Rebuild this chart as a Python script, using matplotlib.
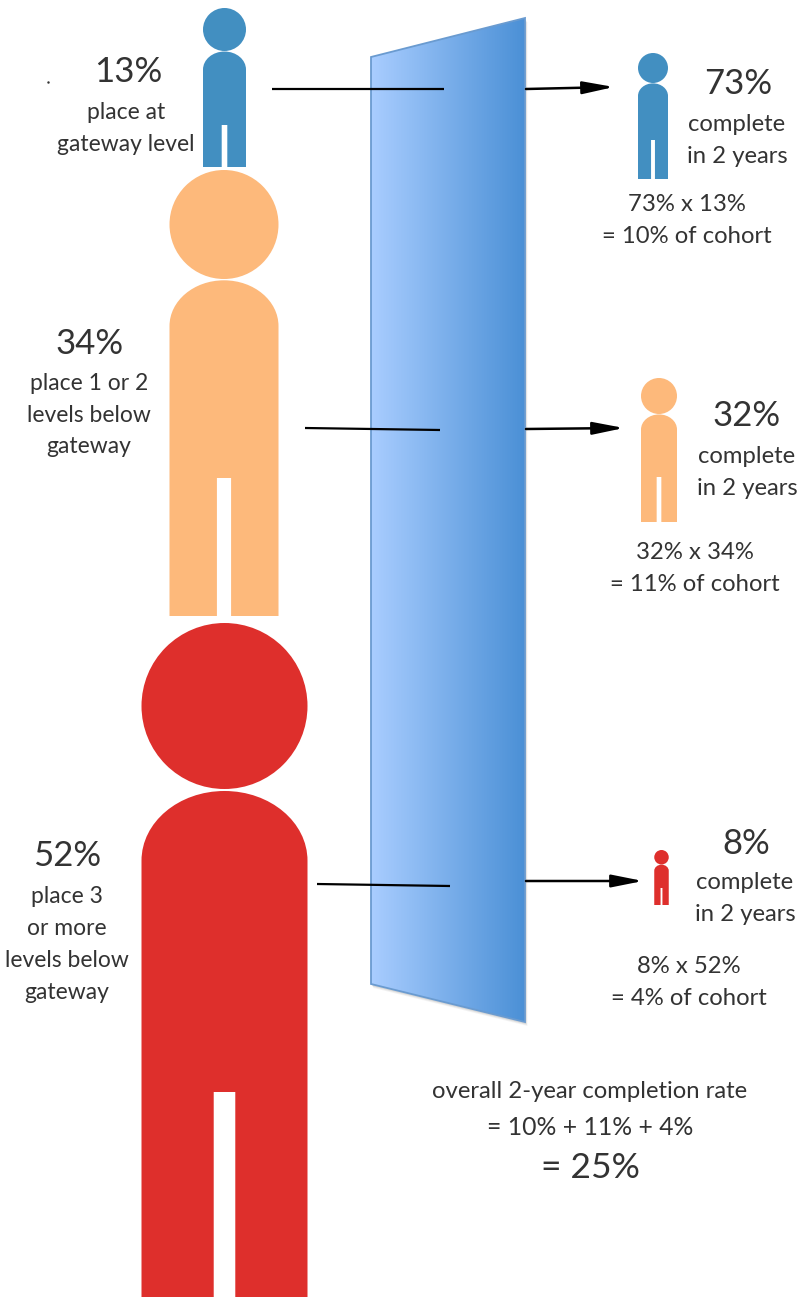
import numpy as np
import matplotlib
matplotlib.use("Agg")
import matplotlib.pyplot as plt
from matplotlib.patches import Circle, PathPatch, Polygon
from matplotlib.path import Path

# values
placement_pct = [13, 34, 52]
completion_pct = [73, 32, 8]
cohort_pct = [10, 11, 4]
overall_pct = 25
placement_labels = [
    ["place at", "gateway level"],
    ["place 1 or 2", "levels below", "gateway"],
    ["place 3", "or more", "levels below", "gateway"],
]

# colours
group_colors = ["#428fc1", "#fdb97b", "#de2f2c"]
TEXT_COLOR = "#333333"

# layout, in reference pixels: (centre x, top, bottom, width, crotch y)
left_people = [(224.5, 8, 167, 43, 125), (224, 170, 616, 109, 478), (224.5, 623, 1297, 166, 1092)]
right_people = [(653, 53, 179, 30, 140), (659, 378, 522, 36, 477), (661.5, 850, 905, 14.5, 888)]

plt.rcParams["font.family"] = ["Lato", "DejaVu Sans"]
W, H = 799, 1297
fig = plt.figure(figsize=(W / 100, H / 100), dpi=100)
ax = fig.add_axes([0, 0, 1, 1])
ax.set_xlim(0, W)
ax.set_ylim(H, 0)
ax.axis("off")


def draw_person(cx, top, bottom, width, crotch, color):
    r = width / 2
    ax.add_patch(Circle((cx, top + r), r, fc=color, ec="none", zorder=3))
    body_top = top + width + width * 0.012
    sh = width * 0.42  # shoulder curve height
    gap = width * 0.065
    k = 0.5523
    verts = [
        (cx - r, bottom), (cx - r, body_top + sh),
        (cx - r, body_top + sh * (1 - k)), (cx - r * k, body_top), (cx, body_top),
        (cx + r * k, body_top), (cx + r, body_top + sh * (1 - k)), (cx + r, body_top + sh),
        (cx + r, bottom), (cx + gap, bottom), (cx + gap, crotch),
        (cx - gap, crotch), (cx - gap, bottom), (cx - r, bottom),
    ]
    codes = [Path.MOVETO, Path.LINETO,
             Path.CURVE4, Path.CURVE4, Path.CURVE4,
             Path.CURVE4, Path.CURVE4, Path.CURVE4,
             Path.LINETO, Path.LINETO, Path.LINETO,
             Path.LINETO, Path.LINETO, Path.CLOSEPOLY]
    ax.add_patch(PathPatch(Path(verts, codes), fc=color, ec="none", zorder=3))


def label(x, y, s, size=16.5):
    # +1.5: va="center" sits a little high against the reference
    ax.text(x, y + 1.5, s, fontsize=size, color=TEXT_COLOR, ha="center", va="center", zorder=5)


# panel with shadow and gradient
panel = [(371, 57), (525, 18), (525, 1022), (371, 984)]
for off, a in [(4, 0.06), (3, 0.08), (2, 0.10)]:
    ax.add_patch(Polygon([(x + off * 0.6, y + off) for x, y in panel],
                         fc="#444444", ec="none", alpha=a, zorder=1))
grad = np.linspace(0, 1, 256).reshape(1, -1)
cmap = matplotlib.colors.LinearSegmentedColormap.from_list("panel", ["#a9cdff", "#4b90d6"])
im = ax.imshow(grad, extent=(371, 525, 1022, 18), cmap=cmap, aspect="auto", zorder=2)
ax.set_xlim(0, W)
ax.set_ylim(H, 0)
edge = Polygon(panel, fc="none", ec="#6a9bd0", lw=1.3, zorder=2.5)
ax.add_patch(edge)
im.set_clip_path(edge)

# people
for (cx, t, b, w, cr), c in zip(left_people, group_colors):
    draw_person(cx, t, b, w, cr, c)
for (cx, t, b, w, cr), c in zip(right_people, group_colors):
    draw_person(cx, t, b, w, cr, c)

# lines into the panel and arrows out of it
in_lines = [((272, 89), (444, 89)), ((305, 428), (440, 430)), ((317, 884), (450, 886))]
out_arrows = [((526, 89), (614, 87)), ((526, 429), (624, 428)), ((526, 881), (643, 881))]
for (x0, y0), (x1, y1) in in_lines:
    ax.plot([x0, x1], [y0, y1], color="black", lw=1.6, solid_capstyle="butt", zorder=4)
for start, end in out_arrows:
    ax.annotate("", xy=end, xytext=start, zorder=4,
                arrowprops=dict(arrowstyle="-|>,head_length=1.35,head_width=0.27", color="black",
                                lw=1.8, shrinkA=0, shrinkB=0, mutation_scale=14))

# left labels
pct_pos = [(128, 71), (90, 342), (67, 855)]
line_pos = [(126, [111, 143]), (89, [382, 414, 445]), (67, [895, 927, 959, 991])]
for p, (x, y), (lx, ys), lines in zip(placement_pct, pct_pos, line_pos, placement_labels):
    label(x, y, f"{p}%", 25)
    for ly, s in zip(ys, lines):
        label(lx, ly, s)

# right labels
right_pos = [(738, 83, 737, 123, 155), (747, 415, 747, 455, 487), (746, 843, 745, 881, 913)]
calc_pos = [(687, 203, 235), (695, 551, 583), (689, 965, 997)]
for i in range(3):
    px, py, lx, y1, y2 = right_pos[i]
    label(px, py, f"{completion_pct[i]}%", 25)
    label(lx, y1, "complete", 17.2)
    label(lx, y2, "in 2 years", 17.2)
    cx, c1, c2 = calc_pos[i]
    label(cx, c1, f"{completion_pct[i]}% x {placement_pct[i]}%", 17.2)
    label(cx, c2, f"= {cohort_pct[i]}% of cohort", 17.2)

# total
label(590, 1090, "overall 2-year completion rate", 17.2)
label(590, 1126, "= " + " + ".join(f"{v}%" for v in cohort_pct), 17.8)
label(590, 1167, f"= {overall_pct}%", 25.5)

# stray dot in the original
ax.plot([48], [82], marker=".", ms=1.5, color="#333333")

fig.savefig("out.png", dpi=100, facecolor="white")
